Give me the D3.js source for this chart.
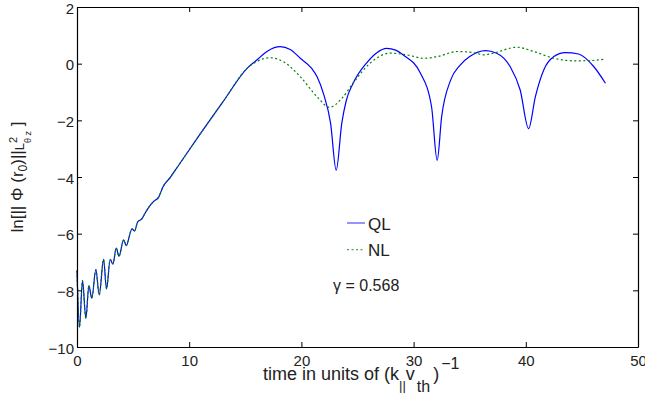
<!DOCTYPE html>
<html>
<head>
<meta charset="utf-8">
<script src="https://cdn.jsdelivr.net/npm/d3@7"></script>
<style>
  body { margin: 0; background: #fff; }
  svg { display: block; font-family: "Liberation Sans", Arial, sans-serif; }
</style>
</head>
<body>
<svg id="chart"></svg>
<script>
// Shared growth phase (QL and NL coincide)
const growthT = [0.0, 0.22, 0.49, 0.79, 1.06, 1.32, 1.68, 1.98, 2.37, 2.63, 2.96, 3.2, 3.5, 3.74, 4.15, 4.39, 4.9, 5.13, 5.4, 5.79, 6.09, 6.47, 6.83, 7.28, 7.66, 8.3, 9.0, 11.0, 13.0, 15.2];
const growthV = [-7.3, -9.31, -7.66, -8.99, -7.83, -8.28, -7.27, -8.16, -6.91, -7.95, -6.91, -7.07, -6.51, -6.8, -6.22, -6.42, -5.83, -5.91, -5.59, -5.47, -5.26, -5.03, -4.86, -4.71, -4.35, -4.02, -3.62, -2.47, -1.35, -0.15];

// Quasilinear (QL) after saturation
const qlT = [16.0, 17.0, 18.1, 19.0, 19.9, 20.9, 21.4, 22.0, 22.6, 23.1, 23.6, 24.0, 24.6, 25.8, 26.7, 27.6, 28.4, 29.1, 30.6, 31.6, 32.1, 32.5, 33.3, 34.15, 35.0, 36.4, 37.4, 38.6, 39.5, 40.25, 40.85, 41.6, 42.5, 43.5, 44.7, 46.05, 47.1];
const qlV = [0.12, 0.45, 0.6, 0.5, 0.19, -0.16, -0.46, -1.1, -2.1, -3.76, -2.1, -1.3, -0.7, 0.02, 0.38, 0.54, 0.48, 0.3, -0.33, -1.52, -3.41, -1.87, -0.58, -0.05, 0.25, 0.46, 0.37, -0.1, -0.93, -2.29, -1.17, -0.22, 0.25, 0.39, 0.34, -0.1, -0.69];

// Nonlinear (NL) after saturation
const nlT = [16.0, 17.2, 18.4, 19.9, 21.4, 22.5, 23.6, 24.6, 26.1, 27.9, 29.4, 30.9, 32.1, 33.9, 35.6, 36.2, 37.1, 39.2, 40.7, 42.5, 44.3, 45.8, 47.1];
const nlV = [0.07, 0.21, 0.07, -0.46, -1.17, -1.54, -1.23, -0.69, 0.01, 0.37, 0.31, 0.19, 0.25, 0.43, 0.37, 0.31, 0.37, 0.58, 0.43, 0.19, 0.1, 0.11, 0.16];

const xTicks = [0, 10, 20, 30, 40, 50];
const yTicks = [2, 0, -2, -4, -6, -8, -10];
const legendLabels = ["QL", "NL"];
const gammaLabel = "\u03b3 = 0.568";

const width = 645;
const height = 399;
const margin = { top: 7, right: 7, bottom: 52, left: 77 };

const svg = d3.select("#chart").attr("width", width).attr("height", height);

const x = d3.scaleLinear().domain([0, 50]).range([margin.left, width - margin.right]);
const y = d3.scaleLinear().domain([-10, 2]).range([height - margin.bottom, margin.top]);

const toPoints = (ts, vs) => ts.map((t, i) => ({ t, v: vs[i] }));
const qlData = toPoints(growthT.concat(qlT), growthV.concat(qlV));
const nlData = toPoints(growthT.concat(nlT), growthV.concat(nlV));

const line = d3
  .line()
  .x((d) => x(d.t))
  .y((d) => y(d.v))
  .curve(d3.curveMonotoneX);

// Curves: QL first, NL dotted on top
svg
  .append("path")
  .datum(qlData)
  .attr("fill", "none")
  .attr("stroke", "#0000ff")
  .attr("stroke-width", 1.2)
  .attr("d", line);

svg
  .append("path")
  .datum(nlData)
  .attr("fill", "none")
  .attr("stroke", "#008000")
  .attr("stroke-width", 1.2)
  .attr("stroke-dasharray", "2,2.5")
  .attr("d", line);

// Axes with inward ticks, box all round
const styleAxis = (g) => {
  g.attr("font-family", null).attr("font-size", null);
  g.selectAll("path.domain").attr("stroke", "#000").attr("stroke-width", 1.2);
  g.selectAll(".tick line").attr("stroke", "#000");
  g.selectAll(".tick text").attr("fill", "#222").style("font-size", "15px");
};

svg
  .append("g")
  .attr("transform", `translate(0,${y(-10)})`)
  .call(d3.axisBottom(x).tickValues(xTicks).tickSizeInner(-5).tickSizeOuter(0).tickPadding(8))
  .call(styleAxis);

svg
  .append("g")
  .attr("transform", `translate(0,${y(2)})`)
  .call(d3.axisTop(x).tickValues(xTicks).tickSizeInner(-5).tickSizeOuter(0).tickFormat(""))
  .call(styleAxis);

svg
  .append("g")
  .attr("transform", `translate(${x(0)},0)`)
  .call(d3.axisLeft(y).tickValues(yTicks).tickSizeInner(-5).tickSizeOuter(0).tickPadding(3))
  .call(styleAxis)
  .call((g) => g.selectAll(".tick text").attr("dy", "0.4em"));

svg
  .append("g")
  .attr("transform", `translate(${x(50)},0)`)
  .call(d3.axisRight(y).tickValues(yTicks).tickSizeInner(-5).tickSizeOuter(0).tickFormat(""))
  .call(styleAxis);

// X axis label
const xLabel = svg
  .append("text")
  .attr("x", 263)
  .attr("y", 380)
  .attr("fill", "#222")
  .style("font-size", "18px");
xLabel.append("tspan").text("time in units of (k");
xLabel.append("tspan").attr("dy", 10).style("font-size", "13px").text("||");
xLabel.append("tspan").attr("dy", -10).text("v");
xLabel.append("tspan").attr("dx", 2).attr("dy", 12).style("font-size", "16px").text("th");
xLabel.append("tspan").attr("dx", 3).attr("dy", -12).text(")");
xLabel.append("tspan").attr("dx", 2).attr("dy", -11).style("font-size", "16px").text("\u22121");

// Y axis label
const yLabel = svg
  .append("text")
  .attr("transform", `translate(23,${(y(2) + y(-10)) / 2}) rotate(-90)`)
  .attr("text-anchor", "middle")
  .attr("fill", "#222")
  .style("font-size", "17px");
yLabel.append("tspan").text("ln[|| \u03a6 (r");
yLabel.append("tspan").attr("dy", 4).style("font-size", "12px").text("0");
yLabel.append("tspan").attr("dy", -4).text(")||");
yLabel.append("tspan").attr("dy", 1).style("font-size", "13px").text("L");
yLabel.append("tspan").attr("dy", -7).style("font-size", "11px").text("2");
yLabel.append("tspan").attr("dx", -6).attr("dy", 14).style("font-size", "9px").text("\u03b8 z");
yLabel.append("tspan").attr("dy", -8).text(" ]");

// Legend
const legendColors = ["#0000ff", "#008000"];
const legend = svg.append("g").attr("transform", "translate(347,223)");

const legendItems = legend
  .selectAll(".legend-item")
  .data(legendLabels)
  .enter()
  .append("g")
  .attr("class", "legend-item")
  .attr("transform", (d, i) => `translate(0,${i * 26.7})`);

legendItems
  .append("line")
  .attr("x1", 0)
  .attr("x2", 18)
  .attr("stroke", (d, i) => legendColors[i])
  .attr("stroke-opacity", 0.7)
  .attr("stroke-width", 1.2)
  .attr("stroke-dasharray", (d, i) => (i === 1 ? "2,2.5" : null));

legendItems
  .append("text")
  .attr("x", 21)
  .attr("y", 6.5)
  .attr("fill", "#222")
  .style("font-size", "17px")
  .text((d) => d);

// Growth rate annotation
svg
  .append("text")
  .attr("x", 333)
  .attr("y", 291)
  .attr("fill", "#222")
  .style("font-size", "16px")
  .text(gammaLabel);
</script>
</body>
</html>
